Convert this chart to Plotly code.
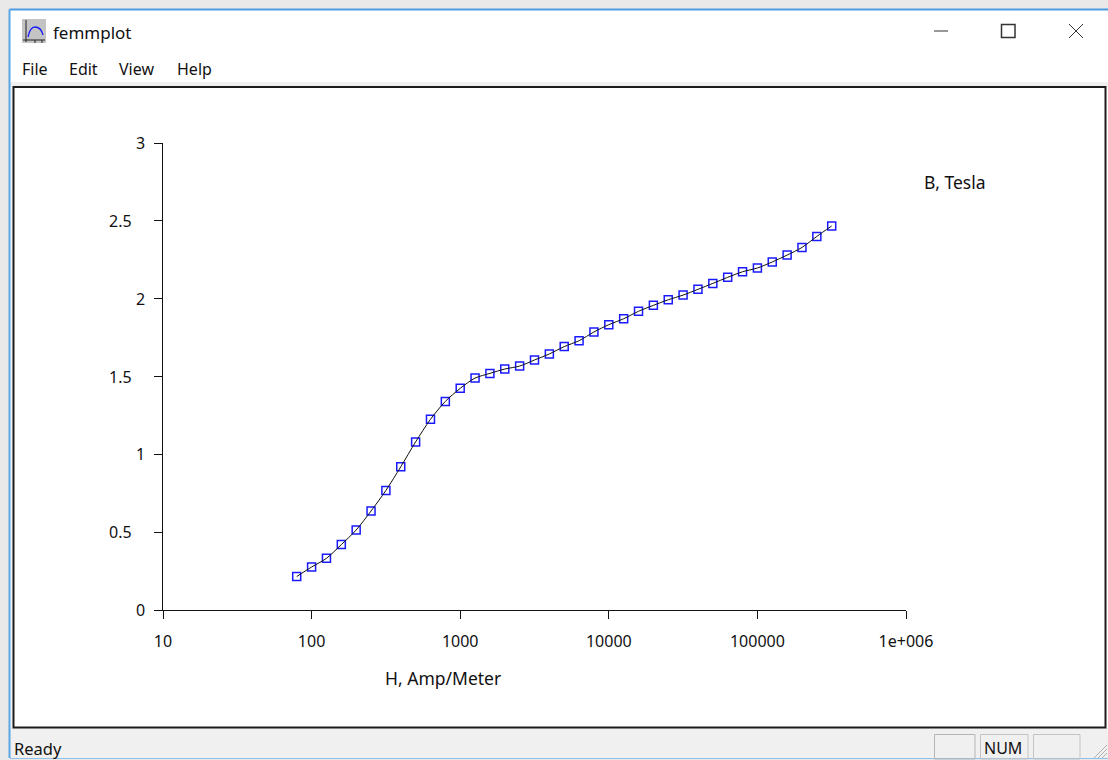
import plotly.graph_objects as go

# Data
H_values = [79.4, 100, 125.9, 158.5, 199.5, 251.2, 316.2, 398.1, 501.2, 631, 794.3, 1000,
            1259, 1585, 1995, 2512, 3162, 3981, 5012, 6310, 7943, 10000,
            12589, 15849, 19953, 25119, 31623, 39811, 50119, 63096, 79433, 100000,
            125893, 158489, 199526, 251189, 316228]
B_values = [0.215, 0.276, 0.332, 0.42, 0.514, 0.636, 0.768, 0.92, 1.08, 1.225, 1.34, 1.424,
            1.49, 1.52, 1.548, 1.567, 1.606, 1.645, 1.692, 1.73, 1.786, 1.833,
            1.871, 1.919, 1.957, 1.993, 2.023, 2.06, 2.098, 2.137, 2.173, 2.197,
            2.236, 2.28, 2.329, 2.40, 2.467]
x_ticks = [10, 100, 1000, 10000, 100000, 1000000]
x_labels = ["10", "100", "1000", "10000", "100000", "1e+006"]
y_ticks = [0, 0.5, 1, 1.5, 2, 2.5, 3]
y_labels = ["0", "0.5", "1", "1.5", "2", "2.5", "3"]

W, H = 1108, 760
FONT = "Noto Sans"
TXT = "#111111"


def px(x):
    return x / W


def py(y):
    return 1 - y / H


def rect(x0, y0, x1, y1, fill=None, line=None, lw=1):
    return dict(type="rect", xref="paper", yref="paper", x0=px(x0), x1=px(x1), y0=py(y0), y1=py(y1),
                fillcolor=fill if fill else "rgba(0,0,0,0)",
                line=dict(color=line if line else "rgba(0,0,0,0)", width=lw if line else 0),
                layer="below")


def seg(x0, y0, x1, y1, color, lw=1, layer="below"):
    return dict(type="line", xref="paper", yref="paper", x0=px(x0), x1=px(x1), y0=py(y0), y1=py(y1),
                line=dict(color=color, width=lw), layer=layer)


def label(x, y, text, size, anchor="center"):
    return dict(xref="paper", yref="paper", x=px(x), y=py(y), text=text, showarrow=False,
                xanchor=anchor, yanchor="middle", font=dict(family=FONT, size=size, color=TXT))


shapes = [
    rect(0, 0, 1108, 760, fill="#e9e9e9"),
    rect(10, 10, 1108, 758, fill="#ffffff"),
    rect(10, 82, 1108, 87, fill="#f0f0f0"),
    rect(10, 728, 1108, 758, fill="#f0f0f0"),
    rect(11, 87, 13, 728, fill="#f0f0f0"),
    seg(9.5, 9.5, 1108, 9.5, "#4d9be0", 2),
    seg(9.5, 9.5, 9.5, 758, "#5aa5e6", 2),
    seg(10, 758.5, 1108, 758.5, "#8fc0ea", 1),
    rect(13.5, 87, 1105.5, 727.5, fill="#ffffff", line="#1c1c1c", lw=2),
    # icon
    rect(22, 19, 46, 43, fill="#c4c4c4"),
    seg(26, 20, 26, 42, "#222222", 1),
    seg(23, 40, 45, 40, "#222222", 1),
    seg(35, 40, 35, 43, "#222222", 1),
    seg(42, 40, 42, 43, "#222222", 1),
    dict(type="path", xref="paper", yref="paper", layer="below",
         path=f"M {px(28)} {py(37)} Q {px(30)} {py(27)} {px(35)} {py(27)} Q {px(41)} {py(27)} {px(43)} {py(35)}",
         line=dict(color="#1a1aff", width=1.3)),
    # window controls
    seg(934, 31, 948, 31, "#333333", 1),
    rect(1001.5, 24.5, 1015, 37.5, line="#333333", lw=1.5),
    seg(1069, 24, 1083, 38, "#333333", 1),
    seg(1083, 24, 1069, 38, "#333333", 1),
    # status panels
    rect(934.5, 734.5, 975, 759, line="#b4b4b4", lw=1),
    rect(980.5, 734.5, 1028, 759, line="#c4c4c4", lw=1),
    rect(1033.5, 734.5, 1080, 759, line="#c4c4c4", lw=1),
    # size grip
    seg(1094, 758, 1107, 745, "#b0b0b0", 1),
    seg(1098, 758, 1107, 749, "#b0b0b0", 1),
    seg(1102, 758, 1107, 753, "#b0b0b0", 1),
]

annotations = [
    label(51, 32, "femmplot", 17, "left"),
    label(19.5, 69, "File", 16, "left"),
    label(67, 69, "Edit", 16, "left"),
    label(116.5, 69, "View", 16, "left"),
    label(175, 69, "Help", 16, "left"),
    label(955, 182, "B, Tesla", 17.5),
    label(443, 678, "H, Amp/Meter", 17.5),
    label(12, 748, "Ready", 16.5, "left"),
    label(1003, 748, "NUM", 16),
]
# The y labels keep the reference's uneven right edge: decimals end 13 px further left.
for tick, text in zip(y_ticks, y_labels):
    annotations.append(dict(xref="paper", yref="y", x=px(134 if "." in text else 147), y=tick, text=text,
                            showarrow=False, xanchor="right", yanchor="middle",
                            font=dict(family=FONT, size=16, color=TXT)))

fig = go.Figure()
fig.add_trace(go.Scatter(x=H_values, y=B_values, mode="markers", cliponaxis=False,
                         marker=dict(symbol="square-open", size=8, color="#1a1aff", line=dict(width=1.5, color="#1a1aff")),
                         showlegend=False))
fig.add_trace(go.Scatter(x=H_values, y=B_values, mode="lines", cliponaxis=False,
                         line=dict(color="#111111", width=1, shape="spline", smoothing=0.8),
                         showlegend=False))

fig.update_layout(
    width=W, height=H, margin=dict(l=0, r=0, t=0, b=0, autoexpand=False), autosize=False,
    paper_bgcolor="#ffffff", plot_bgcolor="rgba(0,0,0,0)",
    shapes=shapes, annotations=annotations, showlegend=False,
    font=dict(family=FONT, size=16, color=TXT),
    xaxis=dict(type="log", range=[1, 6], domain=[px(163), px(906)], tickmode="array", automargin=False,
               tickvals=x_ticks, ticktext=x_labels, ticks="outside", ticklen=8, tickwidth=1,
               tickcolor="#111111", showline=True, linecolor="#111111", linewidth=1, showgrid=False,
               zeroline=False, anchor="y", ticklabelstandoff=9, tickfont=dict(family=FONT, size=16, color=TXT)),
    yaxis=dict(range=[0, 3], domain=[py(610), py(143)], tickmode="array", automargin=False,
               tickvals=y_ticks, showticklabels=False, ticks="outside", ticklen=8, tickwidth=1,
               tickcolor="#111111", showline=True, linecolor="#111111", linewidth=1, showgrid=False,
               zeroline=False, anchor="x"),
)

fig.write_html("out.html", config=dict(displayModeBar=False),
               post_script="document.body.style.margin='0';document.body.style.overflow='hidden';")
